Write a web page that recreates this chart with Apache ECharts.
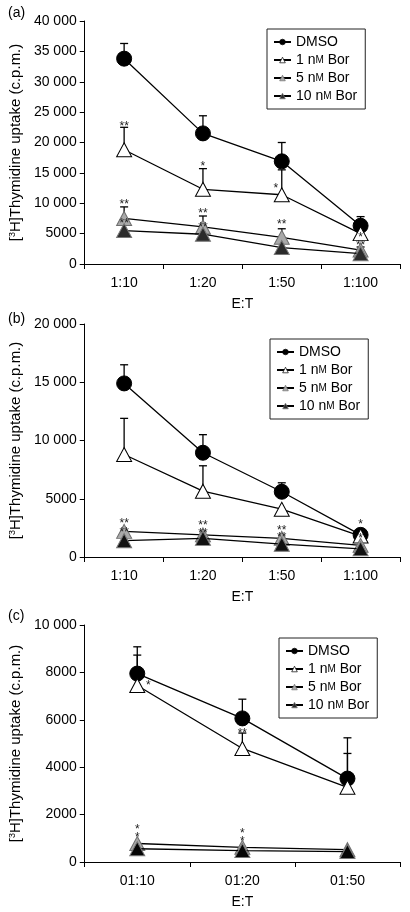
<!DOCTYPE html>
<html><head><meta charset="utf-8">
<script src="https://cdn.jsdelivr.net/npm/echarts@6/dist/echarts.min.js"></script>
<style>html,body{margin:0;padding:0;background:#fff}#c{width:410px;height:912px}</style>
</head><body><div id="c"></div>
<script>
// ---------- data ----------
const categoriesAB = ['1:10', '1:20', '1:50', '1:100'];
const categoriesC = ['01:10', '01:20', '01:50'];
const seriesNames = ['DMSO', '1 nM Bor', '5 nM Bor', '10 nM Bor'];

// panel (a)
const aDMSO = [33800, 21500, 16900, 6300];
const aDMSOErr = [2500, 2900, 3100, 1500];
const a1nM = [18800, 12300, 11400, 5000];
const a1nMErr = [3700, 3400, 4100, 0];
const a5nM = [7500, 6100, 4400, 2300];
const a5nMErr = [1900, 1800, 1400, 500];
const a10nM = [5500, 4900, 2700, 1700];
const a10nMErr = [0, 0, 0, 0];
const aStars = [[0, 23200, '**'], [1, 16600, '*'], [3, 5000, '*'],
                [0, 10500, '**'], [1, 9000, '**'], [2, 7100, '**'], [3, 3700, '**'],
                [0, 7300, '**'], [1, 6700, '**']];
const aStarsLeft = [[2, 13000, '*']];

// panel (b)
const bDMSO = [14900, 8950, 5600, 1900];
const bDMSOErr = [1600, 1550, 770, 0];
const b1nM = [8800, 5650, 4100, 1800];
const b1nMErr = [3100, 2180, 0, 0];
const b5nM = [2200, 1900, 1600, 1000];
const b5nMErr = [0, 0, 0, 0];
const b10nM = [1400, 1600, 1100, 700];
const b10nMErr = [0, 0, 0, 0];
const bStars = [[0, 3200, '**'], [1, 3000, '**'], [2, 2600, '**'], [3, 3150, '*'],
                [0, 2450, '**'], [1, 2350, '**'], [2, 2000, '**'], [3, 1900, '*']];

// panel (c)
const cDMSO = [7950, 6060, 3520];
const cDMSOErr = [1130, 810, 1720];
const c1nM = [7450, 4790, 3150];
const c1nMErr = [1280, 650, 1430];
const c5nM = [780, 620, 520];
const c5nMErr = [0, 0, 0];
const c10nM = [560, 480, 440];
const c10nMErr = [0, 0, 0];
const cStars = [[0, 1550, '*'], [0, 1200, '*'], [1, 1370, '*'], [1, 1030, '*'], [1, 5600, '**']];
const cStarsRight = [[0, 7600, '*']];

// ---------- styling / layout ----------
const FONT = 'Liberation Sans, Arial, sans-serif';
const panels = [
  {label: '(a)', labelTop: 1, cats: categoriesAB, top: 21, height: 243, max: 40000, interval: 5000,
   groups: [[aDMSO, aDMSOErr], [a1nM, a1nMErr], [a5nM, a5nMErr], [a10nM, a10nMErr]],
   stars: aStars, starsSide: [[aStarsLeft, -6]], legendLeft: 267, legendTop: 29, dark: '#2b2b2b'},
  {label: '(b)', labelTop: 307, cats: categoriesAB, top: 324, height: 233, max: 20000, interval: 5000,
   groups: [[bDMSO, bDMSOErr], [b1nM, b1nMErr], [b5nM, b5nMErr], [b10nM, b10nMErr]],
   stars: bStars, starsSide: [], legendLeft: 270, legendTop: 339, dark: '#111'},
  {label: '(c)', labelTop: 604, cats: categoriesC, top: 625, height: 237, max: 10000, interval: 2000,
   groups: [[cDMSO, cDMSOErr], [c1nM, c1nMErr], [c5nM, c5nMErr], [c10nM, c10nMErr]],
   stars: cStars, starsSide: [[cStarsRight, 11]], legendLeft: 279, legendTop: 638, dark: '#050505'}
];

function fmtY(v) {
  if (v >= 10000) return String(v).replace(/\B(?=(\d{3})+(?!\d))/g, ' ');
  return String(v);
}

function errRender(params, api) {
  const x = api.value(0), m = api.value(1), e = api.value(2);
  if (!e) return null;
  const p0 = api.coord([x, m]);
  const p1 = api.coord([x, m + e]);
  const st = {stroke: '#000', lineWidth: 1.3};
  return {type: 'group', children: [
    {type: 'line', shape: {x1: p0[0], y1: p0[1], x2: p1[0], y2: p1[1]}, style: st},
    {type: 'line', shape: {x1: p1[0] - 4, y1: p1[1], x2: p1[0] + 4, y2: p1[1]}, style: st}
  ]};
}
function starRenderFactory(dx) {
  return function (params, api) {
    const p = api.coord([api.value(0), api.value(1)]);
    return {type: 'text', x: p[0] + dx, y: p[1] + 4,
      style: {text: api.value(2), fill: '#222', font: '12px ' + FONT, textAlign: 'center', textVerticalAlign: 'middle'}};
  };
}

const grids = [], xAxes = [], yAxes = [], series = [], legends = [], titles = [];

panels.forEach((P, pi) => {
  grids.push({left: 80, right: 10, top: P.top, height: P.height});
  titles.push({text: P.label, left: 3, top: P.labelTop,
    textStyle: {fontSize: 14, fontWeight: 'normal', color: '#000', fontFamily: FONT}});
  xAxes.push({type: 'category', gridIndex: pi, data: P.cats, boundaryGap: true,
    name: 'E:T', nameLocation: 'middle', nameGap: 33,
    nameTextStyle: {fontSize: 14, color: '#000', fontFamily: FONT},
    axisLine: {lineStyle: {color: '#000', width: 1}},
    axisTick: {show: true, length: 5, inside: false, lineStyle: {color: '#000'}},
    axisLabel: {fontSize: 14, color: '#000', margin: 12, fontFamily: FONT},
    splitLine: {show: false}});
  yAxes.push({type: 'value', gridIndex: pi, min: 0, max: P.max, interval: P.interval,
    name: '[{sup|3}H]Thymidine uptake (c.p.m.)', nameLocation: 'middle', nameGap: 60,
    nameTextStyle: {fontSize: 15, color: '#000', fontFamily: FONT,
      rich: {sup: {fontSize: 9, color: '#000', fontFamily: FONT, verticalAlign: 'top', padding: [0, 0, 6, 0]}}},
    axisLine: {show: true, lineStyle: {color: '#000', width: 1}},
    axisTick: {show: true, length: 5, lineStyle: {color: '#000'}},
    axisLabel: {fontSize: 14, color: '#000', margin: 8, fontFamily: FONT, formatter: fmtY},
    splitLine: {show: false}});

  const styles = [
    {symbol: 'circle', size: 15, fill: '#000', border: '#000'},
    {symbol: 'triangle', size: [15, 14], fill: '#fff', border: '#000'},
    {symbol: 'triangle', size: [15, 14], fill: '#a9a9a9', border: '#6e6e6e'},
    {symbol: 'triangle', size: [15, 14], fill: P.dark, border: '#777'}
  ];
  // error bars (drawn below)
  P.groups.forEach((g, gi) => {
    series.push({type: 'custom', name: 'err' + pi + '_' + gi, xAxisIndex: pi, yAxisIndex: pi,
      renderItem: errRender, z: 1, silent: true,
      data: g[0].map((v, i) => [i, v, g[1][i]])});
  });
  // lines: later series drawn on top
  [0, 1, 2, 3].forEach(gi => {
    const s = styles[gi];
    series.push({type: 'line', name: seriesNames[gi], xAxisIndex: pi, yAxisIndex: pi,
      data: P.groups[gi][0], symbol: s.symbol, symbolSize: s.size, showAllSymbol: true,
      z: 2 + gi * 0.1,
      lineStyle: {color: '#000', width: 1.3},
      itemStyle: {color: s.fill, borderColor: s.border, borderWidth: 1},
      emphasis: {disabled: true}, animation: false});
  });
  series.push({type: 'custom', name: 'stars' + pi, xAxisIndex: pi, yAxisIndex: pi, z: 5, silent: true,
    renderItem: starRenderFactory(0), data: P.stars});
  P.starsSide.forEach((sd, k) => {
    series.push({type: 'custom', name: 'starsS' + pi + '_' + k, xAxisIndex: pi, yAxisIndex: pi, z: 5, silent: true,
      renderItem: starRenderFactory(sd[1]), data: sd[0]});
  });
  legends.push({left: P.legendLeft, top: P.legendTop, orient: 'vertical',
    data: seriesNames, itemWidth: 17, itemHeight: 7, itemGap: 4,
    padding: [6, 8, 6, 6], borderColor: '#222', borderWidth: 1, backgroundColor: '#fff',
    selectedMode: false,
    itemStyle: {borderWidth: 0.7},
    formatter: n => n.replace(' nM ', ' n{s|M} '),
    textStyle: {fontSize: 14, color: '#000', fontFamily: FONT, lineHeight: 14,
      rich: {s: {fontSize: 10, color: '#000', fontFamily: FONT}}}});
});

const chart = echarts.init(document.getElementById('c'), null, {renderer: 'canvas'});
chart.setOption({
  animation: false,
  backgroundColor: '#fff',
  title: titles,
  grid: grids, xAxis: xAxes, yAxis: yAxes, legend: legends, series: series
});
</script></body></html>
